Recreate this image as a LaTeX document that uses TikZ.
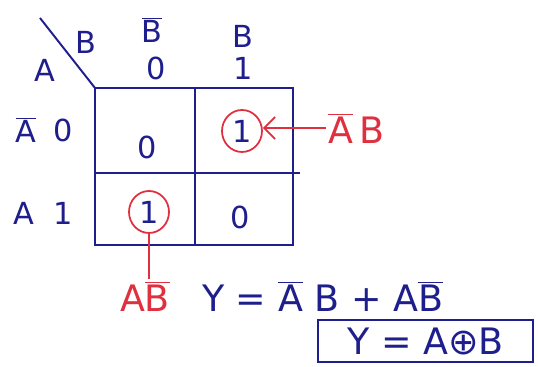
\documentclass[tikz,border=0pt]{standalone}
\usepackage{xcolor}
\usepackage{tikz}
\usepackage{fontspec}
\setmainfont{DejaVu Sans}
\usetikzlibrary{shapes.geometric, arrows.meta, positioning, calc}
\definecolor{kmapink}{HTML}{1E1E8C}
\definecolor{kmapred}{HTML}{E0303F}
\newcommand{\ovl}[1]{$\overline{\mbox{#1}}$}

\begin{document}
\begin{tikzpicture}[
  x=0.02cm, y=-0.02cm,
  grd/.style={draw=kmapink, line width=1.1pt},
  lbl/.style={font=\LARGE, text=kmapink, inner sep=1pt},
  val/.style={font=\LARGE, text=kmapink, inner sep=1pt},
  ring/.style={draw=kmapred, line width=1pt, ellipse, minimum width=0.8cm, minimum height=0.84cm},
  rlbl/.style={font=\huge, text=kmapred, inner sep=1pt},
  arr/.style={-{Straight Barb[length=2.2mm]}, kmapred, line width=1pt}
]
\useasboundingbox (0,0) rectangle (538,367);
% the map
\coordinate (tl) at (95,88);
\coordinate (br) at (293,245);
\draw[grd] (tl) rectangle (br);
\draw[grd] (195,88) -- (195,245);
\draw[grd] (95,173) -- (300,173);
\draw[grd] (40,18) -- (tl);
\node[lbl] (vb) at (86,42) {B};
\node[lbl] (va) at (45,70) {A};
% column and row heads
\node[lbl] (cb0) at (152,30) {\ovl{B}};
\node[lbl] (c0) at (156,68) {0};
\node[lbl] (cb1) at (243,36) {B};
\node[lbl] (c1) at (243,68) {1};
\node[lbl] (ra0) at (26,130) {\ovl{A}};
\node[lbl] (r0) at (63,130) {0};
\node[lbl] (ra1) at (24,213) {A};
\node[lbl] (r1) at (63,213) {1};
% cells
\node[val] (m00) at (147,147) {0};
\node[val] (m01) at (242,131) {1};
\node[val] (m10) at (149,212) {1};
\node[val] (m11) at (240,217) {0};
\node[ring] (g01) at (m01) {};
\node[ring] (g10) at (m10) {};
% terms
\node[rlbl, anchor=west] (t01) at (326,128) {\ovl{A}\,B};
\node[rlbl] (t10) at (145,296) {A\ovl{B}};
\draw[arr] (t01.west) -- (t01.west -| g01.east);
\draw[kmapred, line width=1pt] (g10.south) -- (g10.south |- t10.north);
% result
\node[lbl, font=\huge, anchor=west] (eq) at (200,296) {Y = \ovl{A} B + A\ovl{B}};
\node[lbl, font=\huge, draw=kmapink, line width=1.1pt, inner sep=4pt, minimum width=4.3cm, minimum height=0.84cm, anchor=east] (res) at (534,341) {Y = A⊕B};
\end{tikzpicture}
\end{document}
